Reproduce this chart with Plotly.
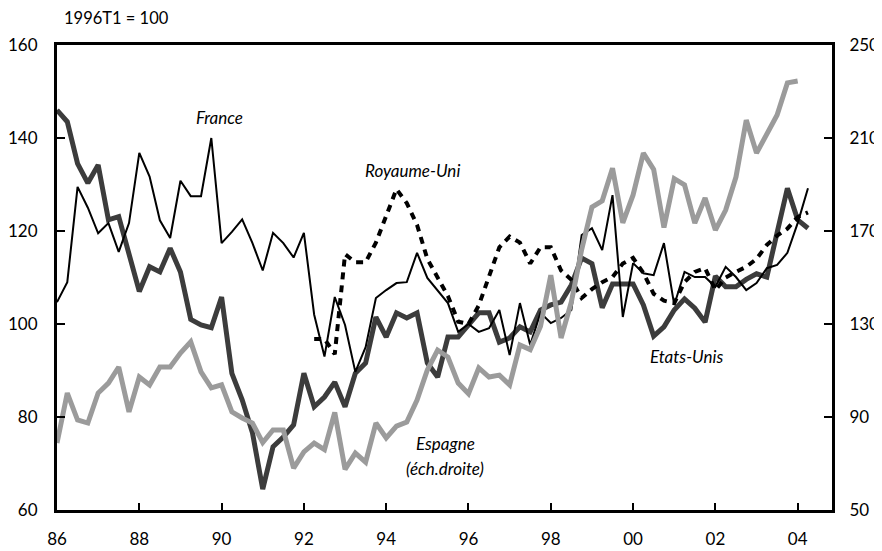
import plotly.graph_objects as go

# Quarterly index, first quarter = 1986T1
start_year = 1986

france = [104.7, 109, 129.5, 125, 119.5, 121.7, 115.5, 121.7, 136.8, 131.7, 122.3, 118.5,
          130.8, 127.5, 127.5, 140, 117.4, 119.8, 122.5, 117.4, 111.5, 119.6, 117.4, 114.3,
          119.6, 102, 93, 105.8, 99.8, 89.7, 95, 105.6, 107.3, 108.8, 109, 115.3,
          109.9, 107.3, 104.5, 98.3, 100, 98.3, 99.1, 103, 93.3, 104.5, 95.5, 102.4,
          100.2, 101.3, 103, 119.1, 120.6, 115.9, 127.7, 101.5, 113.1, 110.9, 110.5, 117.4,
          104.1, 111.2, 110.1, 110.1, 108, 112.3, 110.1, 107.3, 108.8, 112, 112.7, 115.3,
          121.7, 129.2]

etats_unis = [146, 143.5, 134.5, 130.3, 134.2, 122.4, 123.1, 115, 107, 112.3, 111.2, 116.3,
              111.2, 101, 99.8, 99.2, 105.8, 89.4, 83.7, 76.6, 64.5, 73.6, 75.7, 78.3,
              89.4, 82.2, 84.3, 87.5, 82.2, 89.4, 91.6, 101.5, 97.2, 102.4, 101.3, 102.4,
              91.6, 88.6, 97.2, 97.2, 100, 102.4, 102.4, 96.1, 97, 99.4, 98.3, 103,
              104.1, 104.7, 108.4, 114.2, 113, 103.5, 108.6, 108.6, 108.6, 104.1, 97.4, 99.4,
              103, 105.4, 103.4, 100.4, 110.3, 108, 108, 109.6, 110.8, 110.1, 119.5, 129.2,
              122.4, 120.6]

# Royaume-Uni starts in 1992T2 (quarter index 25)
uk_start = 25
royaume_uni = [96.8, 96.8, 93.5, 115, 113.3, 113.3, 117.5, 123.5, 129, 126, 121.3,
               114, 110.2, 106, 100.5, 100, 104, 110, 116.5, 118.8, 117.5, 113, 116.5,
               116.5, 111.5, 109.5, 105.6, 107.5, 109, 110.1, 113, 114.2, 111, 106.5, 105,
               104.5, 109, 111.2, 112, 107.3, 110, 111.2, 112.3, 114, 117, 119, 120.5,
               123, 124]

# Espagne, right-hand scale
espagne = [78.8, 100.3, 88.7, 87.4, 100.3, 104.6, 111.5, 92.2, 107.2, 103.8, 111.5, 111.5,
           117.5, 122.3, 109.4, 102.5, 103.8, 92.2, 89.6, 87.4, 79, 84.4, 84.4, 68,
           75, 78.8, 76, 92, 67.5, 74.5, 70.6, 87.4, 81, 86.1, 87.8, 97.3,
           110.2, 118.8, 115.8, 104.6, 100, 111.1, 107.2, 108, 103.8, 121, 119, 129,
           151, 124, 139.5, 162, 180.3, 183, 197, 173.5, 185.5, 203.5, 196.5, 171.5,
           192.5, 189.8, 173.4, 184.2, 170.4, 179, 193.2, 217.7, 203.5, 211.3, 219.9, 233.7,
           234.5]

x_tick_vals = [1986, 1988, 1990, 1992, 1994, 1996, 1998, 2000, 2002, 2004]
x_tick_text = ["86", "88", "90", "92", "94", "96", "98", "00", "02", "04"]
left_ticks = [60, 80, 100, 120, 140, 160]
right_ticks = [50, 90, 130, 170, 210, 250]


def qx(n, offset=0):
    return [start_year + (offset + i) / 4 for i in range(n)]


FONT = "Lato"
fig = go.Figure()

fig.add_trace(go.Scatter(x=qx(len(etats_unis)), y=etats_unis, mode="lines",
                         line=dict(color="#3c3c3c", width=5), name="Etats-Unis"))
fig.add_trace(go.Scatter(x=qx(len(france)), y=france, mode="lines",
                         line=dict(color="#000000", width=2), name="France"))
fig.add_trace(go.Scatter(x=qx(len(royaume_uni), uk_start), y=royaume_uni, mode="lines",
                         line=dict(color="#000000", width=4, dash="7px,6px"), name="Royaume-Uni"))
fig.add_trace(go.Scatter(x=qx(len(espagne)), y=espagne, mode="lines", yaxis="y2",
                         line=dict(color="#9b9b9b", width=5), name="Espagne"))

axis_font = dict(family=FONT, size=17, color="#000000")

# page has an 8px body margin: figure sits at (8, 8)
fig.update_layout(
    width=874, height=543,
    margin=dict(l=49, r=50, t=37, b=41),
    paper_bgcolor="white", plot_bgcolor="white",
    showlegend=False,
    font=dict(family=FONT, size=16, color="#000000"),
    xaxis=dict(range=[1986, 2004.834], tickvals=x_tick_vals, ticktext=x_tick_text,
               showline=True, linecolor="black", linewidth=3, mirror=True,
               ticks="inside", ticklen=7, tickwidth=2, tickcolor="black", automargin=False,
               showgrid=False, zeroline=False, tickfont=axis_font, ticklabelstandoff=12),
    yaxis=dict(range=[60, 160], tickvals=left_ticks, automargin=False,
               showline=True, linecolor="black", linewidth=3,
               ticks="inside", ticklen=8, tickwidth=2, tickcolor="black",
               showgrid=False, zeroline=False, tickfont=axis_font, ticklabelstandoff=13),
    yaxis2=dict(range=[50, 250], tickvals=right_ticks, overlaying="y", side="right",
                showline=True, linecolor="black", linewidth=3, automargin=False,
                ticks="inside", ticklen=8, tickwidth=2, tickcolor="black",
                showgrid=False, zeroline=False, tickfont=axis_font, ticklabelstandoff=11),
)

label_font = dict(family=FONT, size=17, color="#000000")
fig.add_annotation(text="1996T1 = 100", xref="paper", yref="paper",
                   x=(62 - 57) / 775, y=1 + (45 - 18) / 465, xanchor="left", yanchor="middle",
                   showarrow=False, font=dict(family=FONT, size=16.5, color="#000000"))
fig.add_annotation(text="<i>France</i>", x=1989.96, y=144.5, showarrow=False, font=label_font)
fig.add_annotation(text="<i>Royaume-Uni</i>", x=1994.65, y=133.1, showarrow=False, font=label_font)
fig.add_annotation(text="<i>Espagne</i>", x=1995.45, y=74.2, showarrow=False, font=label_font)
fig.add_annotation(text="<i>(éch.droite)</i>", x=1995.43, y=69.0, showarrow=False, font=label_font)
fig.add_annotation(text="<i>Etats-Unis</i>", x=2001.31, y=93.0, showarrow=False, font=label_font)

fig.write_html("out.html")
